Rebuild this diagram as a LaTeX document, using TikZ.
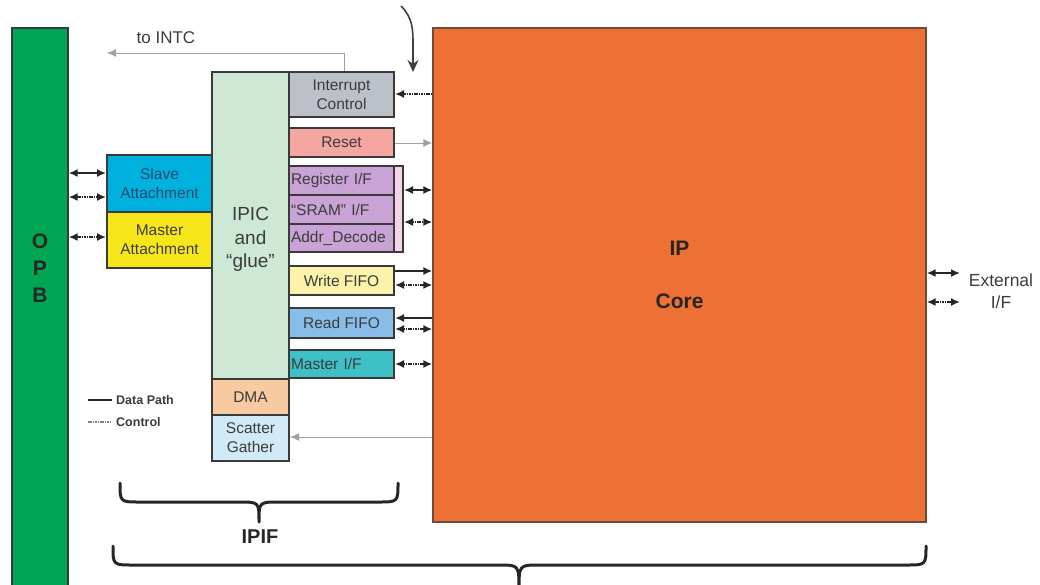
\documentclass[tikz,border=0pt]{standalone}
\usepackage{fontspec}
\setmainfont{Liberation Sans}
\usetikzlibrary{arrows.meta}

\definecolor{opbgreen}{HTML}{00A651}
\definecolor{coreorange}{HTML}{ED7134}
\definecolor{ipicgreen}{HTML}{CDE8D5}
\definecolor{intgray}{HTML}{BCC0C8}
\definecolor{resetpink}{HTML}{F4A6A0}
\definecolor{regpurple}{HTML}{C9A2D6}
\definecolor{strippink}{HTML}{F2D3E8}
\definecolor{wfifoyellow}{HTML}{FBF3AA}
\definecolor{rfifoblue}{HTML}{87BDE8}
\definecolor{mifteal}{HTML}{3EC0C6}
\definecolor{dmapeach}{HTML}{F7CAA2}
\definecolor{sgblue}{HTML}{D2E9F8}
\definecolor{slavecyan}{HTML}{00B0DD}
\definecolor{mattyellow}{HTML}{F7E71A}
\definecolor{edgegray}{HTML}{3A3A3A}
\definecolor{txtgray}{HTML}{3C3C3C}
\definecolor{slavetxt}{HTML}{1E4A72}
\definecolor{thingray}{HTML}{A0A0A0}

\begin{document}
\begin{tikzpicture}[x=1pt,y=-1pt,
  blk/.style={draw=edgegray, line width=2pt, inner sep=0pt, align=center,
    text=txtgray, font={\fontsize{15.5}{19}\selectfont}},
  lblk/.style={blk, align=left, inner xsep=2pt, text width=101pt},
  datap/.style={line width=1.6pt, black!85},
  ctrlp/.style={line width=1.6pt, black!85, dash pattern=on 1.6pt off 0.8pt},
  thinp/.style={line width=1pt, thingray},
  tip/.style={-{Latex[length=9pt,width=8pt]}},
  tips/.style={{Latex[length=9pt,width=8pt]}-{Latex[length=9pt,width=8pt]}},
  bracep/.style={line width=3pt, black!85, line cap=round, line join=round}]

\useasboundingbox (0,0) rectangle (1040,584);
\clip (0,0) rectangle (1040,584);

% OPB bus
\node[draw=edgegray, line width=1.4pt, fill=opbgreen, minimum width=56pt,
  minimum height=566pt, inner sep=0pt] (opb) at (40,311) {};
\node[font={\bfseries\fontsize{21}{27}\selectfont}, align=center, text=black!85]
  (opbtxt) at (40,268) {O\\P\\B};

% IP core
\node[draw=edgegray!70!coreorange, line width=1.4pt, fill=coreorange, minimum width=493pt,
  minimum height=494pt, inner sep=0pt, align=center, text=black!85,
  font={\bfseries\fontsize{21}{53}\selectfont}] (core) at (679.5,275) {IP\\Core};

% attachments
\node[blk, fill=slavecyan, text=slavetxt, minimum width=105pt, minimum height=57pt]
  (slave) at (159.5,183.5) {Slave\\Attachment};
\node[blk, fill=mattyellow, minimum width=105pt, minimum height=56pt]
  (matt) at (159.5,240) {Master\\Attachment};

% IPIC column
\node[blk, fill=ipicgreen, minimum width=77pt, minimum height=307pt] (ipic) at (250.5,225.5) {};
\node[text=txtgray, font={\fontsize{19}{23.5}\selectfont}, align=center]
  (ipictxt) at (250.5,239.5) {IPIC\\and\\“glue”};
\node[blk, fill=dmapeach, minimum width=77pt, minimum height=36pt] (dma) at (250.5,397) {DMA};
\node[blk, fill=sgblue, minimum width=77pt, minimum height=46pt] (sg) at (250.5,438) {Scatter\\Gather};

% service blocks
\node[blk, fill=intgray, minimum width=105pt, minimum height=45pt] (intr) at (341.5,94.5) {Interrupt\\Control};
\node[blk, fill=resetpink, minimum width=105pt, minimum height=29pt] (reset) at (341.5,142.5) {Reset};
\node[draw=edgegray, line width=2pt, fill=strippink, minimum width=114pt,
  minimum height=86pt, inner sep=0pt] (regstrip) at (346,209) {};
\node[lblk, fill=regpurple, minimum height=29pt] (reg) at (341.5,180.5) {Register I/F};
\node[lblk, fill=regpurple, minimum height=29pt] (sram) at (341.5,209.5) {“SRAM” I/F};
\node[lblk, fill=regpurple, minimum height=28pt] (addr) at (341.5,238) {Addr\_Decode};
\node[blk, fill=wfifoyellow, minimum width=105pt, minimum height=29pt] (wfifo) at (341.5,280.5) {Write FIFO};
\node[blk, fill=rfifoblue, minimum width=105pt, minimum height=30pt] (rfifo) at (341.5,323) {Read FIFO};
\node[lblk, fill=mifteal, minimum height=28pt] (mif) at (341.5,364) {Master I/F};

% OPB <-> attachments
\draw[datap, tips] (opb.east |- 0,173) -- (slave.west |- 0,173);
\draw[ctrlp, tips] (opb.east |- 0,197) -- (slave.west |- 0,197);
\draw[ctrlp, tips] (opb.east |- 0,237) -- (matt.west |- 0,237);

% service blocks <-> core
\draw[ctrlp, tip] (core.west |- 0,94) -- (intr.east |- 0,94);
\draw[thinp, tip] (reset.east |- 0,143) -- (core.west |- 0,143);
\draw[datap, tips] (regstrip.east |- 0,190) -- (core.west |- 0,190);
\draw[ctrlp, tips] (regstrip.east |- 0,222) -- (core.west |- 0,222);
\draw[datap, tip] (wfifo.east |- 0,271) -- (core.west |- 0,271);
\draw[ctrlp, tips] (wfifo.east |- 0,285) -- (core.west |- 0,285);
\draw[datap, tip] (core.west |- 0,318) -- (rfifo.east |- 0,318);
\draw[ctrlp, tips] (rfifo.east |- 0,329) -- (core.west |- 0,329);
\draw[ctrlp, tips] (mif.east |- 0,364) -- (core.west |- 0,364);
\draw[thinp, tip] (core.west |- 0,437) -- (sg.east |- 0,437);

% interrupt output
\coordinate (intc) at (107,53);
\draw[thinp, tip] (intr.north -| 344,0) |- (intc);
\node[text=txtgray, font={\fontsize{17}{19}\selectfont}] (intctxt) at (166,38) {to INTC};

% incoming arrow at top
\coordinate (topin) at (401,6);
\coordinate (topend) at (413,72);
\draw[line width=1.6pt, black!75, -{Stealth[length=12pt,width=11pt]}]
  (topin) .. controls (413,18) and (413,30) .. (413,45) -- (topend);

% external interface
\coordinate (ext1) at (960,273);
\coordinate (ext2) at (960,302);
\draw[datap, tips] (core.east |- ext1) -- (ext1);
\draw[ctrlp, tips] (core.east |- ext2) -- (ext2);
\node[text=txtgray, font={\fontsize{17.5}{22}\selectfont}, align=center] (exttxt) at (1001,291) {External\\I/F};

% legend
\coordinate (lg1a) at (88,400); \coordinate (lg1b) at (112,400);
\coordinate (lg2a) at (88,422); \coordinate (lg2b) at (112,422);
\draw[datap] (lg1a) -- (lg1b);
\draw[ctrlp, black!50] (lg2a) -- (lg2b);
\node[anchor=west, inner sep=0pt, text=txtgray, font={\bfseries\fontsize{12.5}{14}\selectfont}] (lgdata) at (116,400) {Data Path};
\node[anchor=west, inner sep=0pt, text=txtgray, font={\bfseries\fontsize{12.5}{14}\selectfont}] (lgctrl) at (116,422) {Control};

% IPIF brace
\draw[bracep] (120,483) .. controls (120,502) .. (140,502) -- (239,502)
  .. controls (259,502) .. (259,522) .. controls (259,502) .. (279,502) -- (378,502)
  .. controls (398,502) .. (398,483);
\node[font={\bfseries\fontsize{20}{24}\selectfont}, text=black!85] (ipif) at (260,537) {IPIF};

% overall brace
\draw[bracep] (113,546) .. controls (113,565) .. (133,565) -- (499,565)
  .. controls (519,565) .. (519,590) .. controls (519,565) .. (539,565) -- (906,565)
  .. controls (926,565) .. (926,546);
\end{tikzpicture}
\end{document}
